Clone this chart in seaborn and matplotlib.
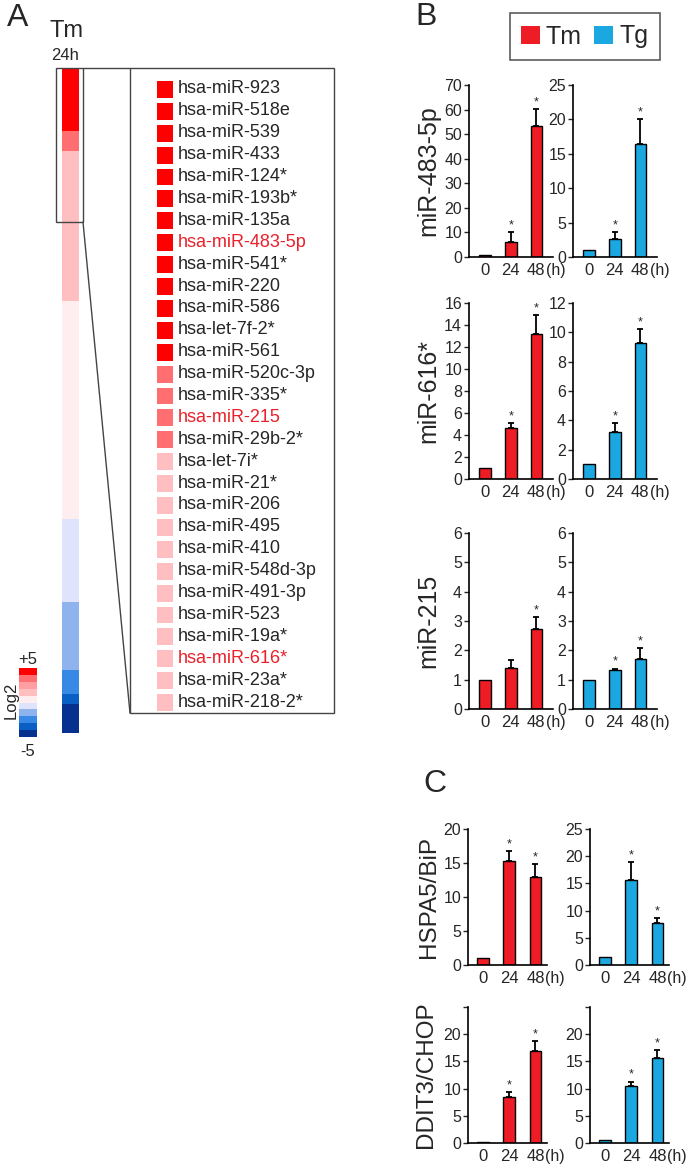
import numpy as np
import pandas as pd
import matplotlib
matplotlib.use('Agg')
import matplotlib.pyplot as plt
import seaborn as sns
from matplotlib.colors import ListedColormap
from matplotlib.patches import Rectangle, Patch
from matplotlib.lines import Line2D

# ---------------- data ----------------
# panel A: log2 fold change column (Tm 24h), grouped as blocks of rows
heat_levels = [4.5, 3.5, 1.5, 0.5, -0.5, -1.5, -2.5, -3.5, -4.5]
heat_counts = [13, 4, 31, 45, 17, 14, 5, 2, 6]
cbar_levels = [4.5, 3.5, 2.5, 1.5, 0.5, -0.5, -1.5, -2.5, -3.5, -4.5]
level_colors = ['#06318f', '#0a5fc4', '#3889e6', '#8fb3ec', '#dfe3fb',
                '#ffeef0', '#ffbfc1', '#ff9fa2', '#ff6f72', '#ff0000']

mirnas = ['hsa-miR-923', 'hsa-miR-518e', 'hsa-miR-539', 'hsa-miR-433',
          'hsa-miR-124*', 'hsa-miR-193b*', 'hsa-miR-135a', 'hsa-miR-483-5p',
          'hsa-miR-541*', 'hsa-miR-220', 'hsa-miR-586', 'hsa-let-7f-2*',
          'hsa-miR-561', 'hsa-miR-520c-3p', 'hsa-miR-335*', 'hsa-miR-215',
          'hsa-miR-29b-2*', 'hsa-let-7i*', 'hsa-miR-21*', 'hsa-miR-206',
          'hsa-miR-495', 'hsa-miR-410', 'hsa-miR-548d-3p', 'hsa-miR-491-3p',
          'hsa-miR-523', 'hsa-miR-19a*', 'hsa-miR-616*', 'hsa-miR-23a*',
          'hsa-miR-218-2*']
highlight = ['hsa-miR-483-5p', 'hsa-miR-215', 'hsa-miR-616*']

# panels B and C: relative expression, 0/24/48 h
times = ['0', '24', '48']
mir483_tm = [1.0, 6.3, 53.3]
mir483_tm_err = [0, 3.9, 7.0]
mir483_tg = [1.0, 2.6, 16.4]
mir483_tg_err = [0, 1.0, 3.6]
mir616_tm = [1.0, 4.6, 13.2]
mir616_tm_err = [0, 0.5, 1.7]
mir616_tg = [1.0, 3.2, 9.3]
mir616_tg_err = [0, 0.6, 0.9]
mir215_tm = [1.0, 1.4, 2.72]
mir215_tm_err = [0, 0.27, 0.4]
mir215_tg = [1.0, 1.33, 1.72]
mir215_tg_err = [0, 0.05, 0.35]
hspa5_tm = [1.0, 15.3, 12.9]
hspa5_tm_err = [0, 1.5, 2.0]
hspa5_tg = [1.5, 15.6, 7.7]
hspa5_tg_err = [0, 3.3, 0.9]
ddit3_tm = [0.2, 8.4, 17.0]
ddit3_tm_err = [0, 0.9, 1.7]
ddit3_tg = [0.5, 10.4, 15.6]
ddit3_tg_err = [0, 0.9, 1.5]

stars_all = [0, 1, 1]
stars_215_tm = [0, 0, 1]

RED = '#ee1c24'
BLUE = '#1ba8e1'

sns.set_style('ticks')
plt.rcParams['font.family'] = ['Liberation Sans', 'DejaVu Sans']

W, H = 693, 1172
fig = plt.figure(figsize=(W / 100, H / 100), dpi=100)
fig.patch.set_facecolor('white')


def px_axes(x0, y0, x1, y1):
    return fig.add_axes([x0 / W, 1 - y1 / H, (x1 - x0) / W, (y1 - y0) / H])


def fx(x):
    return x / W


def fy(y):
    return 1 - y / H


cmap = ListedColormap(level_colors)

# ---------------- Panel A ----------------
heat_col = np.repeat(heat_levels, heat_counts).reshape(-1, 1)
ax_h = px_axes(62, 68, 79, 733)
sns.heatmap(heat_col, cmap=cmap, vmin=-5, vmax=5, cbar=False,
            xticklabels=False, yticklabels=False, ax=ax_h)

ax_c = px_axes(19, 668, 37, 737)
sns.heatmap(np.array(cbar_levels).reshape(-1, 1), cmap=cmap, vmin=-5, vmax=5,
            cbar=False, xticklabels=False, yticklabels=False, ax=ax_c)
fig.text(fx(28), fy(660), '+5', ha='center', va='center', fontsize=12)
fig.text(fx(28), fy(751), '-5', ha='center', va='center', fontsize=12)
fig.text(fx(11), fy(700), 'Log2', ha='center', va='center', fontsize=12, rotation=90)

ax_l = px_axes(153.5, 78, 174.5, 713)
sns.heatmap(heat_col[:len(mirnas)], cmap=cmap, vmin=-5, vmax=5, cbar=False,
            linewidths=2.2, linecolor='white',
            xticklabels=False, yticklabels=mirnas, ax=ax_l)
ax_l.yaxis.tick_right()
ax_l.tick_params(axis='y', length=0, pad=2, labelsize=13)
for lab in ax_l.get_yticklabels():
    lab.set_rotation(0)
    lab.set_va('center')
    if lab.get_text() in highlight:
        lab.set_color('#e8212b')

fig.text(fx(18), fy(18), 'A', ha='center', va='center', fontsize=23)
fig.text(fx(67), fy(31), 'Tm', ha='center', va='center', fontsize=17)
fig.text(fx(65), fy(56), '24h', ha='center', va='center', fontsize=12)

# zoom boxes
box_kw = dict(transform=fig.transFigure, fill=False, ec='#444444', lw=1)
fig.add_artist(Rectangle((fx(56), fy(222)), fx(27), 154 / H, **box_kw))
fig.add_artist(Rectangle((fx(130), fy(713)), fx(204), 645 / H, **box_kw))
fig.add_artist(Line2D([fx(83), fx(130)], [fy(68), fy(68)], transform=fig.transFigure,
                      color='#444444', lw=1))
fig.add_artist(Line2D([fx(83), fx(130)], [fy(222), fy(713)], transform=fig.transFigure,
                      color='#444444', lw=1))


# ---------------- Panels B & C ----------------
def bar_panel(rect, vals, errs, stars, color, ylim, yticks, xlim,
              ylabel=None, label_x=-0.5, label_size=18, ytl=None):
    ax = px_axes(*rect)
    df = pd.DataFrame({'time': times, 'value': vals})
    sns.barplot(data=df, x='time', y='value', color=color, saturation=1,
                width=0.45, edgecolor='black', linewidth=1, errorbar=None, ax=ax)
    idx = [i for i in range(3) if errs[i] > 0]
    ax.errorbar(idx, [vals[i] for i in idx],
                yerr=[[0] * len(idx), [errs[i] for i in idx]],
                fmt='none', ecolor='black', elinewidth=1.3, capsize=2.5, capthick=1.3)
    for i in range(3):
        if stars[i]:
            ax.annotate('*', xy=(i, vals[i] + errs[i]), xytext=(0, 0.5),
                        textcoords='offset points', ha='center', va='bottom', fontsize=9)
    ax.set_xlim(*xlim)
    ax.set_ylim(*ylim)
    ax.set_yticks(yticks)
    if ytl is not None:
        ax.set_yticklabels(ytl)
    sns.despine(ax=ax)
    for s in ['left', 'bottom']:
        ax.spines[s].set_linewidth(1.2)
        ax.spines[s].set_color('black')
    ax.tick_params(axis='x', length=0, pad=4.5, labelsize=12)
    ax.tick_params(axis='y', length=3.5, width=1, pad=1.5, labelsize=11.5)
    ax.set_xlabel('')
    ax.set_ylabel(ylabel if ylabel else '', fontsize=label_size)
    ax.yaxis.set_label_coords(label_x, 0.5)
    ax.annotate('(h)', xy=(2, 0), xycoords=ax.get_xaxis_transform(),
                xytext=(7.2, -4.5), textcoords='offset points',
                ha='left', va='top', fontsize=11.5)
    return ax


xb = (-0.63, 2.65)
xc = (-0.58, 2.44)

bar_panel((469, 85, 553, 257), mir483_tm, mir483_tm_err, stars_all, RED,
          (0, 70), range(0, 71, 10), xb, 'miR-483-5p', -0.34)
bar_panel((573, 85, 657, 257), mir483_tg, mir483_tg_err, stars_all, BLUE,
          (0, 25), range(0, 26, 5), xb)
bar_panel((469, 303, 553, 479), mir616_tm, mir616_tm_err, stars_all, RED,
          (0, 16), range(0, 17, 2), xb, 'miR-616*', -0.34)
bar_panel((573, 303, 657, 479), mir616_tg, mir616_tg_err, stars_all, BLUE,
          (0, 12), range(0, 13, 2), xb)
bar_panel((469, 533, 553, 709), mir215_tm, mir215_tm_err, stars_215_tm, RED,
          (0, 6), range(0, 7), xb, 'miR-215', -0.34)
bar_panel((573, 533, 657, 709), mir215_tg, mir215_tg_err, stars_all, BLUE,
          (0, 6), range(0, 7), xb)

bar_panel((468, 829, 547, 965), hspa5_tm, hspa5_tm_err, stars_all, RED,
          (0, 20), range(0, 21, 5), xc, 'HSPA5/BiP', -0.36, 17.5)
bar_panel((590, 829, 669, 965), hspa5_tg, hspa5_tg_err, stars_all, BLUE,
          (0, 25), range(0, 26, 5), xc)
bar_panel((468, 1007, 547, 1143), ddit3_tm, ddit3_tm_err, stars_all, RED,
          (0, 25), range(0, 26, 5), xc, 'DDIT3/CHOP', -0.39, 17.5,
          ytl=['0', '5', '10', '15', '20', ''])
bar_panel((590, 1007, 669, 1143), ddit3_tg, ddit3_tg_err, stars_all, BLUE,
          (0, 25), range(0, 26, 5), xc, ytl=['0', '5', '10', '15', '20', ''])

fig.text(fx(426), fy(17), 'B', ha='center', va='center', fontsize=23)
fig.text(fx(435), fy(784), 'C', ha='center', va='center', fontsize=23)

handles = [Patch(facecolor=RED, edgecolor='none', label='Tm'),
           Patch(facecolor=BLUE, edgecolor='none', label='Tg')]
leg = fig.legend(handles=handles, loc='center', bbox_to_anchor=(fx(584.5), fy(36.5)),
                 ncol=2, fontsize=18, frameon=True, fancybox=False,
                 handlelength=0.75, handleheight=0.7, handletextpad=0.25,
                 columnspacing=0.5, borderpad=0.45)
leg.get_frame().set_edgecolor('#333333')
leg.get_frame().set_linewidth(1.2)

fig.savefig('out.png', dpi=100, facecolor='white')
